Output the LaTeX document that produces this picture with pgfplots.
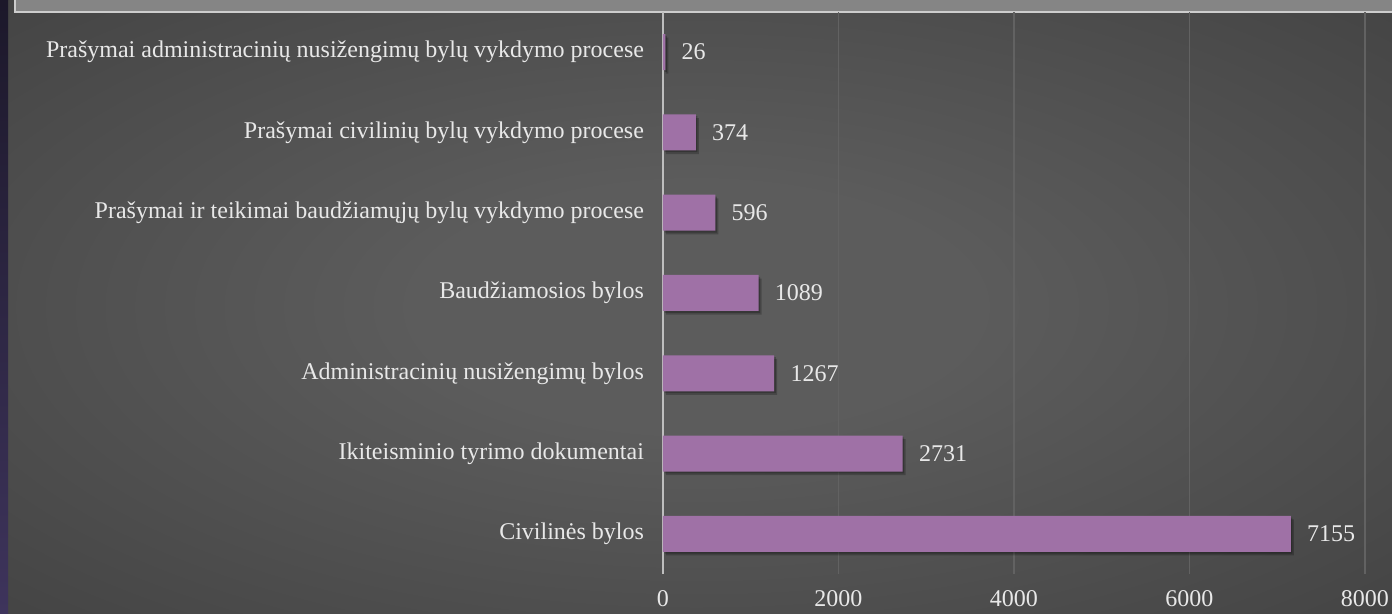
\documentclass[border=0pt]{standalone}
\usepackage{pgfplots}
\pgfplotsset{compat=1.18}
\usepackage{fontspec}
\setmainfont{Liberation Serif}
\definecolor{barcol}{RGB}{159,113,166}
\definecolor{txtcol}{RGB}{232,232,232}
\definecolor{bgin}{RGB}{92,92,92}
\definecolor{bgout}{RGB}{34,34,34}
\definecolor{gridcol}{RGB}{98,98,98}
\definecolor{zerocol}{RGB}{190,190,190}
\definecolor{bandcol}{RGB}{133,133,133}
\definecolor{bandline}{RGB}{205,205,205}
\definecolor{striptop}{RGB}{28,24,42}
\definecolor{stripbot}{RGB}{62,52,92}
\pgfdeclareradialshading{bgshade}{\pgfpoint{0bp}{0bp}}{color(0bp)=(bgin); color(10bp)=(bgin); color(72bp)=(bgout)}
\begin{document}
\begin{tikzpicture}
\useasboundingbox (0,0) rectangle (696pt,307pt);
% background
\shade[shading=bgshade] (0,0) rectangle (696pt,307pt);
\shade[top color=striptop, bottom color=stripbot] (0,0) rectangle (4pt,307pt);
\fill[bandcol] (7.5pt,301pt) rectangle (696pt,307pt);
\draw[bandline, line width=0.8pt] (7.5pt,307pt) -- (7.5pt,301pt) -- (696pt,301pt);
\begin{axis}[
  at={(331.5pt,20pt)}, anchor=south west,
  scale only axis,
  width=351pt, height=281pt,
  xbar,
  bar width=18pt,
  xmin=0, xmax=8000,
  ymin=-0.5, ymax=6.5,
  xtick={0,2000,4000,6000,8000},
  ytick={0,...,6},
  yticklabels={Civilinės bylos, Ikiteisminio tyrimo dokumentai, Administracinių nusižengimų bylos, Baudžiamosios bylos, Prašymai ir teikimai baudžiamųjų bylų vykdymo procese, Prašymai civilinių bylų vykdymo procese, Prašymai administracinių nusižengimų bylų vykdymo procese},
  axis lines*=left,
  x axis line style={draw=none},
  y axis line style={draw=zerocol, line width=0.8pt, -},
  major tick length=0pt,
  xmajorgrids,
  grid style={draw=gridcol, line width=0.8pt},
  /pgf/number format/1000 sep={},
  /pgf/number format/assume math mode=true,
  tick label style={font=\fontsize{12}{14}\selectfont, text=txtcol},
  yticklabel style={xshift=-6pt},
  xticklabel style={yshift=-4.5pt},
  nodes near coords,
  nodes near coords style={font=\fontsize{12}{14}\selectfont, text=txtcol, anchor=west, inner sep=0pt, xshift=8pt},
]
\addplot[fill=barcol, draw=none,
  preaction={fill=black, opacity=0.22, transform canvas={xshift=1.5pt, yshift=-1.8pt}},
  preaction={fill=black, opacity=0.22, transform canvas={xshift=0.8pt, yshift=-0.9pt}}]
coordinates {(7155,0) (2731,1) (1267,2) (1089,3) (596,4) (374,5) (26,6)};
\end{axis}
\end{tikzpicture}
\end{document}
